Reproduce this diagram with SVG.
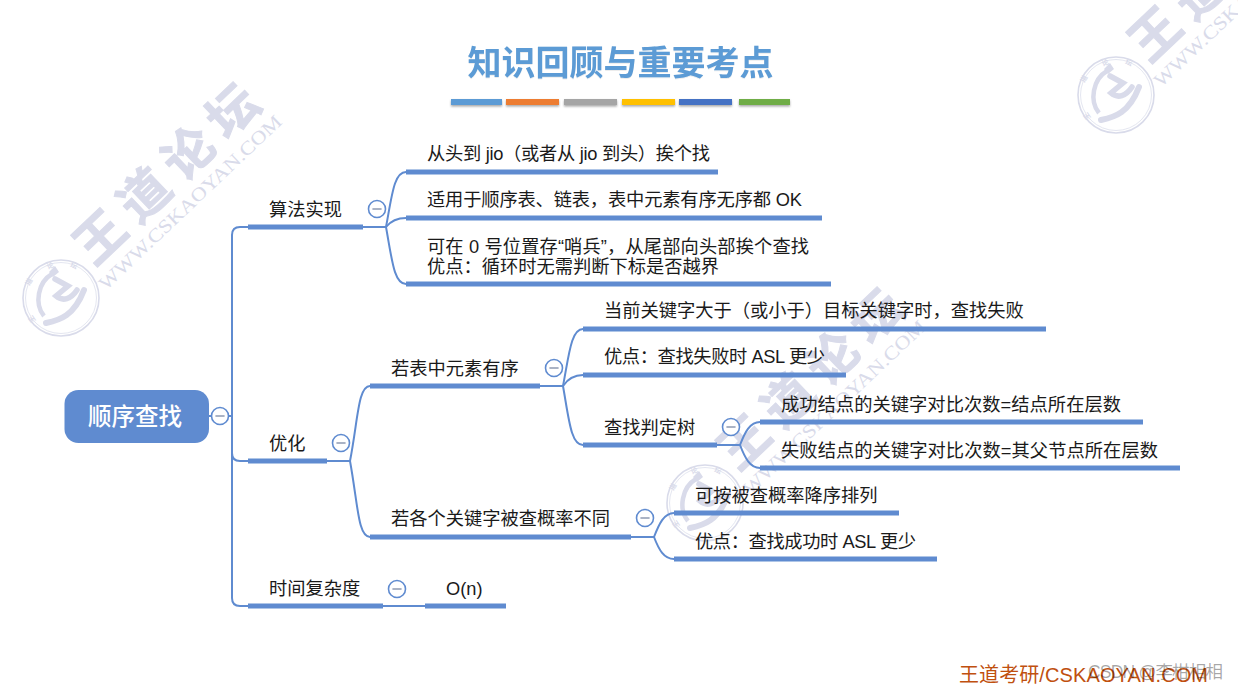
<svg xmlns="http://www.w3.org/2000/svg" width="1238" height="691" viewBox="0 0 1238 691">
<style>
text{font-family:"Liberation Sans","Noto Sans CJK SC",sans-serif;}
.t{font-size:18.25px;fill:#1a1a1a;}
.bar{fill:#5f8bd0;}
.ln{fill:none;stroke:#5f8bd0;stroke-width:2;}
.col circle{fill:#fff;stroke:#5f8bd0;stroke-width:1.6;}
.col line{stroke:#8f9bb3;stroke-width:1.6;stroke-linecap:round;}
.wm{fill:#d9dbea;}
.wms{fill:none;stroke:#d9dbea;}
</style>
<defs>
<filter id="sh" x="-10%" y="-50%" width="120%" height="250%"><feDropShadow dx="0" dy="1.5" stdDeviation="1" flood-color="#000" flood-opacity="0.35"/></filter>
<filter id="tsh" x="-5%" y="-10%" width="110%" height="125%"><feDropShadow dx="0" dy="0.5" stdDeviation="0.7" flood-color="#000" flood-opacity="0.15"/></filter>
<g id="mark">
<circle class="wms" cx="61" cy="298" r="38" stroke-width="1.6"/>
<circle class="wms" cx="61" cy="298" r="35.500" stroke-width="0.7"/>
<path class="wms" stroke-width="4.500" d="M52 274 C38 282 34 304 44 316"/>
<path class="wms" stroke-width="6" stroke-linecap="round" d="M46 323 C60 320 74 316 84 290"/>
<path class="wms" stroke-width="5.500" stroke-linecap="round" d="M55 279 L68 286 L56 296 C63 302 71 299 77 290"/>
<path class="wm" d="M49 272 l6 -6 l4 6 l-6 5z"/>
<text class="wm" font-size="7" font-weight="700" text-anchor="middle" transform="translate(34,318) rotate(-125)">王</text>
<text class="wm" font-size="7" font-weight="700" text-anchor="middle" transform="translate(31,283) rotate(-60)">道</text>
<text class="wm" font-size="7" font-weight="700" text-anchor="middle" transform="translate(51,268) rotate(-20)">论</text>
<text class="wm" font-size="7" font-weight="700" text-anchor="middle" transform="translate(73,268) rotate(20)">坛</text>
<text class="wm" font-size="50" font-weight="700" text-anchor="middle" x="0 61 122 183" y="18" transform="translate(100,237) rotate(-43.500)" stroke="#d9dbea" stroke-width="1">王道论坛</text>
<text class="wm" font-size="19" textLength="244" lengthAdjust="spacingAndGlyphs" transform="translate(106,291) rotate(-43.500)" style="font-family:'Liberation Serif',serif">WWW.CSKAOYAN.COM</text>
</g>
</defs>
<rect width="1238" height="691" fill="#fff"/>
<g id="watermarks">
<use href="#mark"/>
<use href="#mark" x="1055" y="-203"/>
<use href="#mark" x="644" y="205"/>
</g>
<g id="title">
<text x="620.500" y="75" text-anchor="middle" font-size="34" font-weight="700" fill="#5b9bd5" filter="url(#tsh)">知识回顾与重要考点</text>
<g filter="url(#sh)">
<rect x="451" y="99" width="51" height="6" fill="#5b9bd5"/>
<rect x="506" y="99" width="53" height="6" fill="#ed7d31"/>
<rect x="564" y="99" width="53" height="6" fill="#a5a5a5"/>
<rect x="622" y="99" width="53" height="6" fill="#ffc000"/>
<rect x="679" y="99" width="53" height="6" fill="#4472c4"/>
<rect x="739" y="99" width="51" height="6" fill="#70ad47"/>
</g>
</g>
<g id="connectors">
<path class="ln" d="M209 416H232"/>
<path class="ln" d="M248 227H240Q232 227 232 235V598Q232 606 240 606H248"/>
<path class="ln" d="M232 453Q232 461 240 461H248"/>
<path class="ln" d="M363 227H386"/>
<path class="ln" d="M386 227C392 195 394 172 406 172"/>
<path class="ln" d="M386 227C390 222 396 218 406 218"/>
<path class="ln" d="M386 227C392 260 394 284 406 284"/>
<path class="ln" d="M327 461H350"/>
<path class="ln" d="M350 461C358 420 358 386 370 386"/>
<path class="ln" d="M350 461C358 505 358 537 370 537"/>
<path class="ln" d="M540 386H563"/>
<path class="ln" d="M563 386C569 355 571 329 583 329"/>
<path class="ln" d="M563 386C567 380 573 375 583 375"/>
<path class="ln" d="M563 386C569 420 571 445 583 445"/>
<path class="ln" d="M717 445H740"/>
<path class="ln" d="M740 445C745 432 750 422 760 422"/>
<path class="ln" d="M740 445C745 458 750 468 760 468"/>
<path class="ln" d="M631 537H654"/>
<path class="ln" d="M654 537C659 524 664 513 674 513"/>
<path class="ln" d="M654 537C659 550 664 559 674 559"/>
<path class="ln" d="M383 606H425"/>
</g>
<g id="root">
<rect x="64.500" y="390" width="144.500" height="53" rx="14" fill="#5f8bd0"/>
<text x="135" y="425" text-anchor="middle" font-size="23.500" font-weight="500" fill="#fff" style="font-family:'Noto Sans CJK SC',sans-serif">顺序查找</text>
</g>
<g id="n1"><rect class="bar" x="248" y="224.500" width="115" height="5"/><text class="t" x="269" y="216">算法实现</text></g>
<g id="n1a"><rect class="bar" x="406" y="169.500" width="312" height="5"/><text class="t" x="427" y="160" textLength="283">从头到 jio（或者从 jio 到头）挨个找</text></g>
<g id="n1b"><rect class="bar" x="406" y="215.500" width="416" height="5"/><text class="t" x="427" y="206" textLength="375">适用于顺序表、链表，表中元素有序无序都 OK</text></g>
<g id="n1c"><rect class="bar" x="406" y="281.500" width="425" height="5"/><text class="t" x="427" y="253" textLength="382">可在 0 号位置存“哨兵”，从尾部向头部挨个查找</text><text class="t" x="427" y="273">优点：循环时无需判断下标是否越界</text></g>
<g id="n2"><rect class="bar" x="248" y="458.500" width="79" height="5"/><text class="t" x="269" y="450">优化</text></g>
<g id="n2a"><rect class="bar" x="370" y="383.500" width="170" height="5"/><text class="t" x="391" y="375">若表中元素有序</text></g>
<g id="n2a1"><rect class="bar" x="583" y="326.500" width="463" height="5"/><text class="t" x="604" y="317">当前关键字大于（或小于）目标关键字时，查找失败</text></g>
<g id="n2a2"><rect class="bar" x="583" y="372.500" width="263" height="5"/><text class="t" x="604" y="363" textLength="221">优点：查找失败时 ASL 更少</text></g>
<g id="n2a3"><rect class="bar" x="583" y="442.500" width="134" height="5"/><text class="t" x="604" y="434">查找判定树</text></g>
<g id="n2a3a"><rect class="bar" x="760" y="419.500" width="383" height="5"/><text class="t" x="781" y="411" textLength="340">成功结点的关键字对比次数=结点所在层数</text></g>
<g id="n2a3b"><rect class="bar" x="760" y="465.500" width="420" height="5"/><text class="t" x="781" y="457" textLength="377">失败结点的关键字对比次数=其父节点所在层数</text></g>
<g id="n2b"><rect class="bar" x="370" y="534.500" width="261" height="5"/><text class="t" x="391" y="525">若各个关键字被查概率不同</text></g>
<g id="n2b1"><rect class="bar" x="674" y="510.500" width="225" height="5"/><text class="t" x="695" y="502">可按被查概率降序排列</text></g>
<g id="n2b2"><rect class="bar" x="674" y="556.500" width="263" height="5"/><text class="t" x="695" y="548" textLength="221">优点：查找成功时 ASL 更少</text></g>
<g id="n3"><rect class="bar" x="248" y="603.500" width="135" height="5"/><text class="t" x="269" y="595">时间复杂度</text></g>
<g id="n3a"><rect class="bar" x="425" y="603.500" width="81" height="5"/><text class="t" x="446" y="595">O(n)</text></g>
<g id="collapse" class="col">
<g><circle cx="220" cy="416" r="8.500"/><line x1="216" y1="416" x2="224" y2="416"/></g>
<g><circle cx="377" cy="209" r="8.500"/><line x1="373" y1="209" x2="381" y2="209"/></g>
<g><circle cx="341" cy="443" r="8.500"/><line x1="337" y1="443" x2="345" y2="443"/></g>
<g><circle cx="554" cy="368" r="8.500"/><line x1="550" y1="368" x2="558" y2="368"/></g>
<g><circle cx="731" cy="427" r="8.500"/><line x1="727" y1="427" x2="735" y2="427"/></g>
<g><circle cx="645" cy="518" r="8.500"/><line x1="641" y1="518" x2="649" y2="518"/></g>
<g><circle cx="397" cy="589" r="8.500"/><line x1="393" y1="589" x2="401" y2="589"/></g>
</g>
<text x="959" y="682" font-size="20" fill="#c0500f" textLength="249">王道考研/CSKAOYAN.COM</text>
<text x="1088" y="678" font-size="17.500" fill="#000" fill-opacity="0.35" textLength="135">CSDN @李柑相相</text>
</svg>
